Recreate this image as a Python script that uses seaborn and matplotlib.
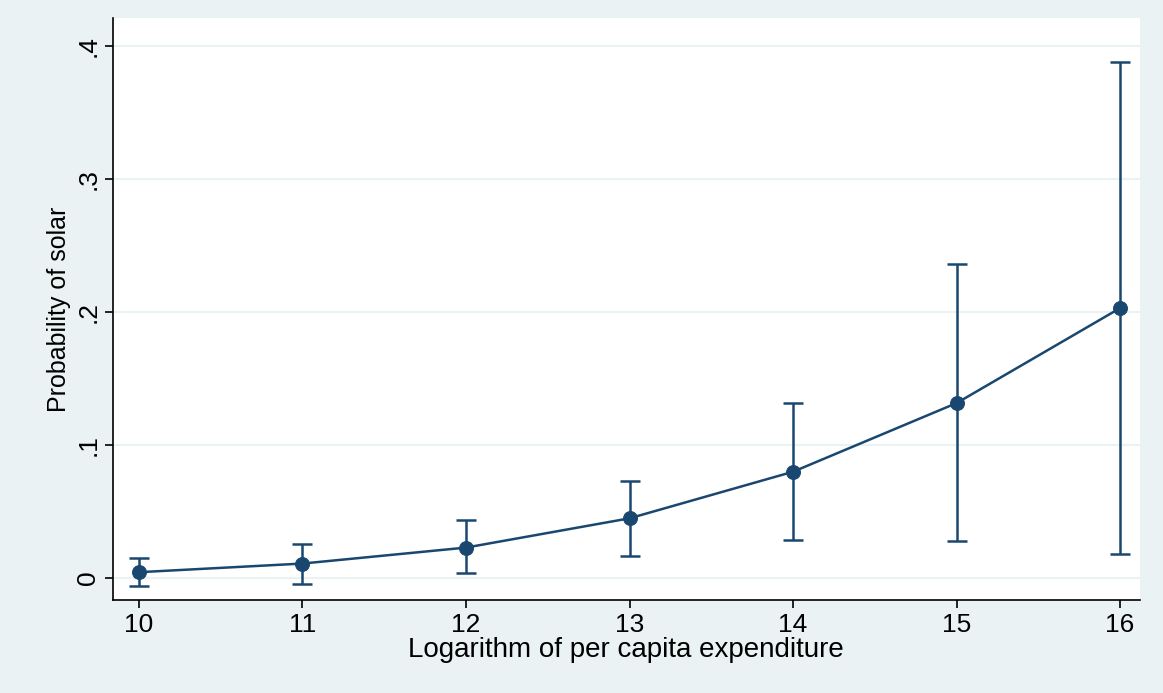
import numpy as np
import pandas as pd
import seaborn as sns
import matplotlib.pyplot as plt

# values
log_exp = [10, 11, 12, 13, 14, 15, 16]
prob = [0.0045, 0.011, 0.023, 0.045, 0.080, 0.1316, 0.203]
ci_low = [-0.006, -0.0045, 0.0038, 0.017, 0.0286, 0.0278, 0.018]
ci_high = [0.015, 0.026, 0.0436, 0.073, 0.132, 0.236, 0.388]
y_ticks = [0, 0.1, 0.2, 0.3, 0.4]
y_labels = ['0', '.1', '.2', '.3', '.4']

df = pd.DataFrame({'x': log_exp, 'p': prob, 'lo': ci_low, 'hi': ci_high})
col = '#1a476f'

sns.set_style('white')
plt.rcParams['font.family'] = ['Liberation Sans', 'DejaVu Sans']
plt.rcParams['text.color'] = 'black'
plt.rcParams['xtick.labelcolor'] = 'black'
plt.rcParams['ytick.labelcolor'] = 'black'
plt.rcParams['axes.labelcolor'] = 'black'

fig = plt.figure(figsize=(11.63, 6.93), dpi=100)
fig.patch.set_facecolor('#eaf2f3')
ax = fig.add_axes([0.097, 0.134, 0.883, 0.84])
ax.set_facecolor('white')

ax.errorbar(df['x'], df['p'], yerr=[df['p'] - df['lo'], df['hi'] - df['p']],
            fmt='none', ecolor=col, elinewidth=1.8, capsize=7, capthick=1.8, zorder=2)
sns.lineplot(data=df, x='x', y='p', color=col, linewidth=1.8, marker='o',
             markersize=10, markeredgecolor=col, ax=ax, zorder=3)

ax.set_xlim(9.84, 16.12)
ax.set_ylim(-0.0165, 0.421)
ax.set_xticks(log_exp)
ax.set_yticks(y_ticks)
ax.set_yticklabels(y_labels, rotation=90, va='center')
ax.tick_params(axis='both', direction='out', length=6, width=1.2, color='black',
               labelsize=19, left=True, bottom=True, pad=3)
ax.grid(axis='y', color='#eaf2f3', linewidth=1.5)
ax.grid(axis='x', visible=False)
for s in ['top', 'right']:
    ax.spines[s].set_visible(False)
for s in ['left', 'bottom']:
    ax.spines[s].set_color('black')
    ax.spines[s].set_linewidth(1.2)

ax.set_xlabel('Logarithm of per capita expenditure', fontsize=20, labelpad=0)
ax.set_ylabel('Probability of solar', fontsize=18, labelpad=4)

fig.savefig('out.png', dpi=100, facecolor=fig.get_facecolor())
